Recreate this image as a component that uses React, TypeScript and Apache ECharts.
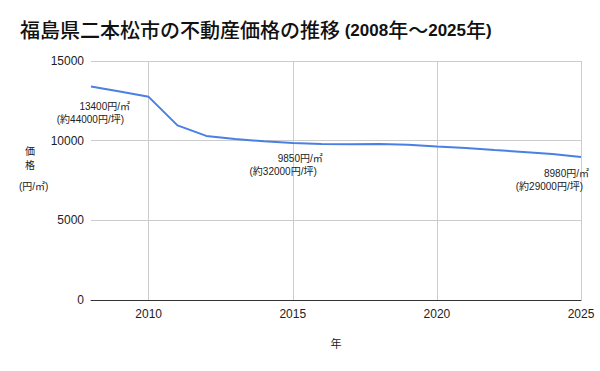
import React, { useEffect, useRef } from "react";
import * as echarts from "echarts";

const years: string[] = [
  "2008", "2009", "2010", "2011", "2012", "2013", "2014", "2015", "2016",
  "2017", "2018", "2019", "2020", "2021", "2022", "2023", "2024", "2025",
];
const prices: number[] = [
  13400, 13080, 12750, 10960, 10300, 10100, 9960, 9850, 9790,
  9770, 9790, 9750, 9640, 9540, 9410, 9290, 9160, 8980,
];
const yTicks = { min: 0, max: 15000, interval: 5000 };
const annotations = [
  { year: "2008", line1: "13400円/㎡", line2: "(約44000円/坪)", offset: [39, 14] },
  { year: "2015", line1: "9850円/㎡", line2: "(約32000円/坪)", offset: [30, 9] },
  { year: "2025", line1: "8980円/㎡", line2: "(約29000円/坪)", offset: [8, 10] },
];
const titleParts = {
  main: "福島県二本松市の不動産価格の推移",
  from: "2008",
  to: "2025",
};
const xName = "年";

const FONT = "'Liberation Sans', Arial, 'Noto Sans CJK JP', sans-serif";

export default function App() {
  const ref = useRef<HTMLDivElement>(null);
  useEffect(() => {
    if (!ref.current) return;
    const chart = echarts.init(ref.current, undefined, { renderer: "svg" });
    chart.setOption({
      animation: false,
      backgroundColor: "#ffffff",
      textStyle: { fontFamily: FONT },
      title: {
        text: `{c|${titleParts.main}}{a| (${titleParts.from}}{c|年〜}{a|${titleParts.to}}{c|年}{a|)}`,
        left: 20,
        top: 21,
        padding: 0,
        textStyle: {
          fontSize: 20,
          fontWeight: 500,
          color: "#111",
          fontFamily: FONT,
          rich: {
            c: { fontSize: 20, fontWeight: 500, color: "#111", fontFamily: FONT },
            a: { fontSize: 17, fontWeight: "bold", color: "#111", fontFamily: FONT },
          },
        },
      },
      grid: { left: 91, right: 19, top: 61, bottom: 71, containLabel: false },
      xAxis: {
        type: "category",
        data: years,
        boundaryGap: false,
        name: xName,
        nameLocation: "middle",
        nameGap: 38,
        nameTextStyle: { fontSize: 11, color: "#222" },
        axisLine: { show: true, lineStyle: { color: "#333", width: 1 } },
        axisTick: { show: false },
        axisLabel: {
          interval: (i: number, v: string) => Number(v) % 5 === 0,
          fontSize: 12,
          color: "#222",
          margin: 8,
        },
        splitLine: {
          show: true,
          interval: (i: number, v: string) => Number(v) % 5 === 0,
          lineStyle: { color: "#cccccc", width: 1 },
        },
      },
      yAxis: {
        type: "value",
        min: yTicks.min,
        max: yTicks.max,
        interval: yTicks.interval,
        axisLine: { show: false },
        axisTick: { show: false },
        axisLabel: { fontSize: 12, color: "#222", margin: 7, formatter: (v: number) => String(v) },
        splitLine: { lineStyle: { color: "#cccccc", width: 1 } },
      },
      graphic: [
        { type: "text", left: 25, top: 146, style: { text: "価", fontSize: 10, fill: "#222", fontFamily: FONT } },
        { type: "text", left: 25, top: 160, style: { text: "格", fontSize: 10, fill: "#222", fontFamily: FONT } },
        { type: "text", left: 19, top: 181, style: { text: "(円/㎡)", fontSize: 10, fill: "#222", fontFamily: FONT } },
      ],
      series: [
        {
          type: "line",
          data: prices,
          showSymbol: false,
          smooth: false,
          lineStyle: { color: "#4a7fe3", width: 2 },
          itemStyle: { color: "#4a7fe3" },
          markPoint: {
            symbol: "circle",
            symbolSize: 0,
            data: annotations.map((a) => ({
              coord: [a.year, prices[years.indexOf(a.year)]],
              label: {
                show: true,
                position: "inside",
                align: "right",
                verticalAlign: "top",
                offset: a.offset,
                formatter: `{a|${a.line1}}\n{b|${a.line2}}`,
                rich: {
                  a: { fontSize: 10, lineHeight: 13, color: "#222", fontFamily: FONT },
                  b: { fontSize: 10, lineHeight: 13, color: "#222", fontFamily: FONT, padding: [0, 6, 0, 0] },
                },
              },
            })),
          },
        },
      ],
    });
    return () => chart.dispose();
  }, []);
  return (
    <div
      ref={ref}
      style={{ width: 600, height: 371, position: "absolute", left: 0, top: 0 }}
    />
  );
}
